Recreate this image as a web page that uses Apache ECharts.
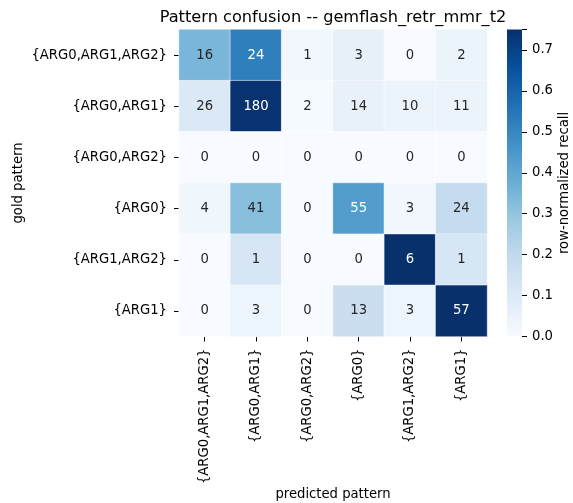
<!DOCTYPE html>
<html>
<head>
<meta charset="utf-8">
<script src="https://cdn.jsdelivr.net/npm/echarts@6/dist/echarts.min.js"></script>
<style>
  html, body { margin: 0; padding: 0; background: #fff; }
  #chart { width: 573px; height: 503px; }
</style>
</head>
<body>
<div id="chart"></div>
<script>
// Pattern labels (rows = gold, columns = predicted)
const predictedPatterns = ['{ARG0,ARG1,ARG2}', '{ARG0,ARG1}', '{ARG0,ARG2}', '{ARG0}', '{ARG1,ARG2}', '{ARG1}'];
const goldPatterns = ['{ARG0,ARG1,ARG2}', '{ARG0,ARG1}', '{ARG0,ARG2}', '{ARG0}', '{ARG1,ARG2}', '{ARG1}'];

// Confusion counts, one list per gold pattern
const countsArg012 = [16, 24, 1, 3, 0, 2];
const countsArg01 = [26, 180, 2, 14, 10, 11];
const countsArg02 = [0, 0, 0, 0, 0, 0];
const countsArg0 = [4, 41, 0, 55, 3, 24];
const countsArg12 = [0, 1, 0, 0, 6, 1];
const countsArg1 = [0, 3, 0, 13, 3, 57];

const colorbarTicks = [0.0, 0.1, 0.2, 0.3, 0.4, 0.5, 0.6, 0.7];

// Blues colour ramp
const blues = ['#f7fbff', '#deebf7', '#c6dbef', '#9ecae1', '#6baed6', '#4292c6', '#2171b5', '#08519c', '#08306b'];

const countRows = [countsArg012, countsArg01, countsArg02, countsArg0, countsArg12, countsArg1];

// Row-normalised recall
const recallRows = countRows.map(row => {
  const total = row.reduce((a, b) => a + b, 0);
  return row.map(v => (total > 0 ? v / total : 0));
});
const vmax = Math.max(...recallRows.flat());

function hexToRgb(h) {
  return [parseInt(h.slice(1, 3), 16), parseInt(h.slice(3, 5), 16), parseInt(h.slice(5, 7), 16)];
}
function rampColor(t) {
  t = Math.min(1, Math.max(0, t));
  const pos = t * (blues.length - 1);
  const i = Math.min(blues.length - 2, Math.floor(pos));
  const f = pos - i;
  const a = hexToRgb(blues[i]), b = hexToRgb(blues[i + 1]);
  return a.map((c, k) => c + (b[k] - c) * f);
}
function luminance(rgb) {
  const lin = rgb.map(c => {
    c = c / 255;
    return c <= 0.03928 ? c / 12.92 : Math.pow((c + 0.055) / 1.055, 2.4);
  });
  return 0.2126 * lin[0] + 0.7152 * lin[1] + 0.0722 * lin[2];
}

const FONT = 'DejaVu Sans';
const FS = 13.2;

const cells = [];
recallRows.forEach((row, r) => {
  row.forEach((v, c) => {
    const lum = luminance(rampColor(v / vmax));
    cells.push({
      value: [c, r, v, countRows[r][c]],
      label: { color: lum > 0.408 ? '#262626' : '#ffffff', fontSize: FS, fontFamily: FONT }
    });
  });
});

const gridTop = 29.5, gridH = 307;

const chart = echarts.init(document.getElementById('chart'), null, { renderer: 'canvas' });
chart.setOption({
  animation: false,
  backgroundColor: '#ffffff',
  textStyle: { fontFamily: FONT },
  title: {
    text: 'Pattern confusion -- gemflash_retr_mmr_t2',
    left: 328, top: 5, textAlign: 'center',
    textStyle: { fontFamily: FONT, fontSize: 16.2, fontWeight: 'normal', color: '#000' }
  },
  grid: [
    { left: 179, top: gridTop, width: 308, height: gridH, outerBoundsMode: 'none', containLabel: false },
    { left: 507, top: gridTop, width: 15, height: gridH, outerBoundsMode: 'none', containLabel: false }
  ],
  xAxis: [
    {
      type: 'category', gridIndex: 0, data: predictedPatterns,
      axisLine: { show: false },
      axisTick: { show: true, alignWithLabel: true, length: 5, lineStyle: { color: '#000', width: 1 } },
      axisLabel: { rotate: 90, margin: 12, fontFamily: FONT, fontSize: FS, color: '#000' },
      splitLine: { show: false },
      name: 'predicted pattern', nameLocation: 'middle', nameGap: 152, nameMoveOverlap: false,
      nameTextStyle: { fontFamily: FONT, fontSize: FS, color: '#000' }
    },
    {
      type: 'category', gridIndex: 1, data: ['cb'],
      show: false
    }
  ],
  yAxis: [
    {
      type: 'category', gridIndex: 0, data: goldPatterns, inverse: true,
      axisLine: { show: false },
      axisTick: { show: true, alignWithLabel: true, length: 5, lineStyle: { color: '#000', width: 1 } },
      axisLabel: { margin: 12, fontFamily: FONT, fontSize: FS, color: '#000' },
      splitLine: { show: false },
      name: 'gold pattern', nameLocation: 'middle', nameGap: 154, nameRotate: 90, nameMoveOverlap: false,
      nameTextStyle: { fontFamily: FONT, fontSize: FS, color: '#000' }
    },
    {
      type: 'value', gridIndex: 1, position: 'right', min: 0, max: vmax, interval: 0.1,
      axisLine: { show: false },
      axisTick: { show: true, length: 5, lineStyle: { color: '#000', width: 1 } },
      axisLabel: {
        margin: 10, fontFamily: FONT, fontSize: FS, color: '#000',
        formatter: v => (colorbarTicks.some(t => Math.abs(t - v) < 1e-9) ? v.toFixed(1) : '')
      },
      splitLine: { show: false },
      name: 'row-normalized recall', nameLocation: 'middle', nameGap: 36, nameRotate: 90, nameMoveOverlap: false,
      nameTextStyle: { fontFamily: FONT, fontSize: FS, color: '#000' }
    }
  ],
  visualMap: {
    show: false, type: 'continuous', seriesIndex: 0, dimension: 2,
    min: 0, max: vmax, inRange: { color: blues }
  },
  series: [
    {
      type: 'heatmap', xAxisIndex: 0, yAxisIndex: 0,
      data: cells,
      itemStyle: { borderColor: '#ffffff', borderWidth: 0.5 },
      label: {
        show: true, fontFamily: FONT, fontSize: FS,
        formatter: p => String(p.value[3])
      },
      emphasis: { disabled: true }
    },
    {
      type: 'bar', xAxisIndex: 1, yAxisIndex: 1,
      data: [vmax], barWidth: '100%',
      itemStyle: {
        color: new echarts.graphic.LinearGradient(0, 1, 0, 0,
          blues.map((c, i) => ({ offset: i / (blues.length - 1), color: c })))
      },
      silent: true
    }
  ]
});
</script>
</body>
</html>
